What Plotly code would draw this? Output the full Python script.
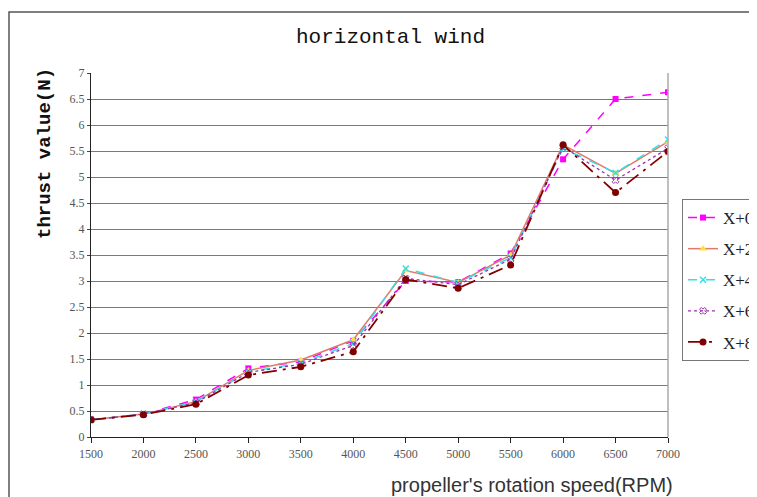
import plotly.graph_objects as go

rpm = [1500, 2000, 2500, 3000, 3500, 4000, 4500, 5000, 5500, 6000, 6500, 7000]
x0_vals = [0.33, 0.44, 0.72, 1.32, 1.45, 1.85, 3.00, 2.98, 3.53, 5.34, 6.50, 6.63]
x2_vals = [0.33, 0.44, 0.68, 1.28, 1.48, 1.87, 3.20, 2.97, 3.50, 5.62, 5.07, 5.68]
x4_vals = [0.33, 0.44, 0.68, 1.25, 1.42, 1.80, 3.24, 2.97, 3.45, 5.55, 5.08, 5.72]
x6_vals = [0.33, 0.44, 0.66, 1.24, 1.40, 1.76, 3.05, 2.93, 3.42, 5.58, 4.94, 5.55]
x8_vals = [0.33, 0.43, 0.63, 1.19, 1.35, 1.64, 3.03, 2.86, 3.31, 5.62, 4.70, 5.49]
series_names = ["X+0", "X+2", "X+4", "X+6", "X+8"]
y_ticks = [0, 0.5, 1, 1.5, 2, 2.5, 3, 3.5, 4, 4.5, 5, 5.5, 6, 6.5, 7]

styles = [
    dict(line=dict(color="#FF00FF", width=1.5, dash="dash"), marker=dict(symbol="square", size=6, color="#FF00FF")),
    dict(line=dict(color="#E07A6A", width=1.5, dash="solid"), marker=dict(symbol="triangle-up", size=7, color="#FFE040")),
    dict(line=dict(color="#33E0E8", width=1.5, dash="dash"), marker=dict(symbol="x-thin", size=6, color="#33E0E8", line=dict(color="#33E0E8", width=1.5))),
    dict(line=dict(color="#9933AA", width=1.3, dash="dot"), marker=dict(symbol="x-open", size=6, color="#9933AA")),
    dict(line=dict(color="#800000", width=1.8, dash="longdashdot"), marker=dict(symbol="circle", size=7, color="#800000")),
]

fig = go.Figure()
for name, vals, st in zip(series_names, [x0_vals, x2_vals, x4_vals, x6_vals, x8_vals], styles):
    fig.add_trace(go.Scatter(x=rpm, y=vals, name=name, legendgroup=name, mode="lines+markers", **st))

# the page body adds an 8px offset; figure sized so the plot area lands where the reference has it
fig.update_layout(
    width=749, height=489,
    paper_bgcolor="white", plot_bgcolor="white",
    margin=dict(l=83, r=89, t=65, b=60, autoexpand=False),
    showlegend=True,
    legend=dict(x=(682-91)/577, y=(437-199)/364, xanchor="left", yanchor="top",
                bordercolor="#777", borderwidth=1, traceorder="grouped",
                font=dict(family="Liberation Serif, DejaVu Serif, serif", size=17, color="#222"),
                tracegroupgap=6, itemwidth=30),
    xaxis=dict(range=[1500, 7000], tickvals=rpm, ticks="outside", ticklen=5, tickcolor="#222",
               showgrid=False, showline=True, linecolor="#222", linewidth=1.2, zeroline=False,
               tickfont=dict(family="Liberation Serif, DejaVu Serif, serif", size=12, color="#555")),
    yaxis=dict(range=[0, 7], tickvals=y_ticks, ticktext=[f"{v:g}" for v in y_ticks],
               ticks="outside", ticklen=3, tickcolor="#444",
               showgrid=True, gridcolor="#7a7a7a", gridwidth=1.2,
               showline=True, linecolor="#222", linewidth=1.2, zeroline=False,
               tickfont=dict(family="Liberation Serif, DejaVu Serif, serif", size=12, color="#555")),
)

fig.add_annotation(text="horizontal wind", xref="paper", yref="paper", x=(390-91)/577, y=1.0 + 35/364,
                   showarrow=False, xanchor="center", yanchor="middle",
                   font=dict(family="Liberation Mono, DejaVu Sans Mono, monospace", size=21, color="#111"))
fig.add_annotation(text="<b>thrust value(N)</b>", xref="paper", yref="paper", x=(45-91)/577, y=(437-154)/364,
                   showarrow=False, textangle=-90, xanchor="center", yanchor="middle",
                   font=dict(family="Liberation Mono, DejaVu Sans Mono, monospace", size=19, color="#111"))
fig.add_annotation(text="propeller's rotation speed(RPM)", xref="paper", yref="paper", x=(675-91)/577, y=-(485-437)/364,
                   showarrow=False, xanchor="right", yanchor="middle",
                   font=dict(family="Liberation Sans, Arial, sans-serif", size=20, color="#333"))

# outer chart frame and right plot-area edge
fig.add_shape(type="rect", xref="paper", yref="paper", x0=(9-91)/577, x1=1.3, y0=-0.3, y1=(437-12)/364,
              line=dict(color="#555", width=1.5), layer="below")
fig.add_shape(type="line", xref="paper", yref="paper", x0=1, x1=1, y0=0, y1=1,
              line=dict(color="#aaa", width=1.5))

fig.write_html("out.html")
